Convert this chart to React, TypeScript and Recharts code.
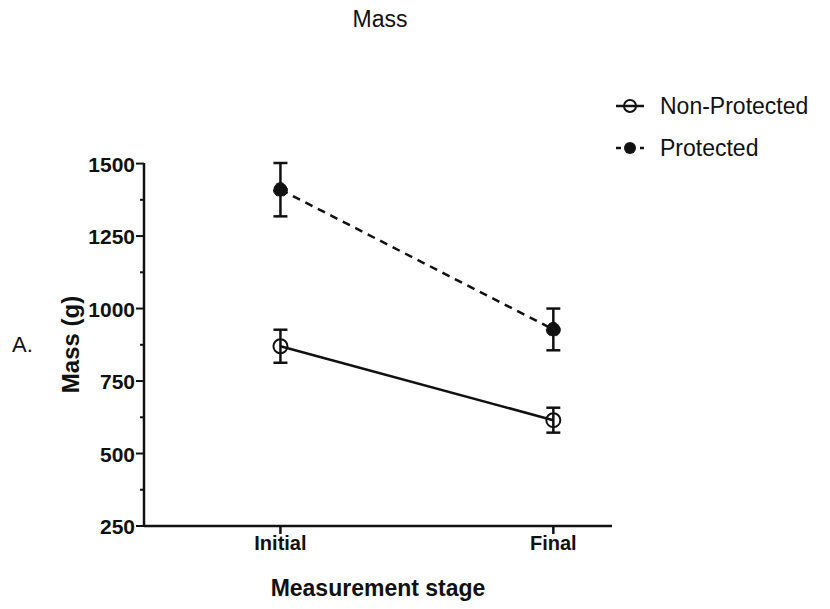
import React from 'react'
import { ComposedChart, Line, XAxis, YAxis, ErrorBar } from 'recharts'

const stages = ['Initial', 'Final']
const nonProtected = [870, 615]
const nonProtectedErr = [57, 43]
const protectedMass = [1410, 928]
const protectedErr = [92, 72]
const yTicks = [250, 375, 500, 625, 750, 875, 1000, 1125, 1250, 1375, 1500]
const majorTicks = [250, 500, 750, 1000, 1250, 1500]

const rows = stages.map((s, i) => ({
  x: i,
  stage: s,
  nonProt: nonProtected[i],
  nonProtErr: nonProtectedErr[i],
  prot: protectedMass[i],
  protErr: protectedErr[i],
}))

const FONT = '"Liberation Sans", Arial, sans-serif'
const INK = '#111'
const AXIS_X = 144

// major ticks get a label and a long tick, minor ones a short tick only
const YTick = (props: any) => {
  const { y, payload } = props
  const major = majorTicks.includes(payload.value)
  return (
    <g>
      <line x1={AXIS_X - (major ? 8 : 4)} x2={AXIS_X} y1={y} y2={y} stroke={INK} strokeWidth={2} />
      {major && (
        <text x={AXIS_X - 9} y={y} dy={8} textAnchor="end" fontFamily={FONT} fontWeight="bold" fontSize={21} fill={INK}>
          {payload.value}
        </text>
      )}
    </g>
  )
}

const LegendBox = () => (
  <svg width={215} height={80} style={{ position: 'absolute', left: 614, top: 88 }}>
    <line x1={2} x2={30} y1={18} y2={18} stroke={INK} strokeWidth={2.5} />
    <circle cx={16} cy={18} r={6} fill="none" stroke={INK} strokeWidth={2} />
    <text x={46} y={26} fontFamily={FONT} fontSize={23} fill={INK}>Non-Protected</text>
    <line x1={2} x2={7} y1={60} y2={60} stroke={INK} strokeWidth={2.5} />
    <line x1={26} x2={30} y1={60} y2={60} stroke={INK} strokeWidth={2.5} />
    <circle cx={16} cy={60} r={6} fill={INK} />
    <text x={46} y={68} fontFamily={FONT} fontSize={23} fill={INK}>Protected</text>
  </svg>
)

export default function App() {
  return (
    <div style={{ position: 'absolute', left: 0, top: 0, width: 830, height: 609, background: '#fff' }}>
      <div style={{ position: 'absolute', left: 0, width: 760, top: 6, textAlign: 'center', fontFamily: FONT, fontSize: 23, color: INK }}>
        Mass
      </div>
      <div style={{ position: 'absolute', left: 12, top: 332, fontFamily: FONT, fontSize: 22, color: INK }}>A.</div>
      <LegendBox />
      <ComposedChart
        width={830}
        height={609}
        data={rows}
        margin={{ top: 163, right: 218, bottom: 53, left: 84 }}
      >
        <XAxis
          dataKey="x"
          type="number"
          domain={[-0.5, 1.215]}
          ticks={[0, 1]}
          tickFormatter={(v: number) => stages[v]}
          height={30}
          stroke={INK}
          strokeWidth={2.5}
          tickSize={8}
          tick={{ fontFamily: FONT, fontWeight: 'bold', fontSize: 20, fill: INK }}
          label={{
            value: 'Measurement stage',
            position: 'insideBottom',
            offset: -40,
            style: { fontFamily: FONT, fontWeight: 'bold', fontSize: 23, fill: INK },
          }}
        />
        <YAxis
          type="number"
          domain={[250, 1500]}
          ticks={yTicks}
          interval={0}
          width={60}
          stroke={INK}
          strokeWidth={2.5}
          tickLine={false}
          tick={<YTick />}
          label={{
            value: 'Mass (g)',
            angle: -90,
            position: 'insideLeft',
            offset: -14,
            style: { textAnchor: 'middle', fontFamily: FONT, fontWeight: 'bold', fontSize: 24, fill: INK },
          }}
        />
        <Line
          dataKey="nonProt"
          stroke={INK}
          strokeWidth={2.5}
          dot={{ r: 7, fill: 'none', stroke: INK, strokeWidth: 2 }}
          isAnimationActive={false}
        >
          <ErrorBar dataKey="nonProtErr" direction="y" width={7} stroke={INK} strokeWidth={2.5} />
        </Line>
        <Line
          dataKey="prot"
          stroke={INK}
          strokeWidth={2.5}
          strokeDasharray="8 6"
          dot={{ r: 7, fill: INK, stroke: INK, strokeWidth: 1 }}
          isAnimationActive={false}
        >
          <ErrorBar dataKey="protErr" direction="y" width={7} stroke={INK} strokeWidth={2.5} />
        </Line>
      </ComposedChart>
    </div>
  )
}
